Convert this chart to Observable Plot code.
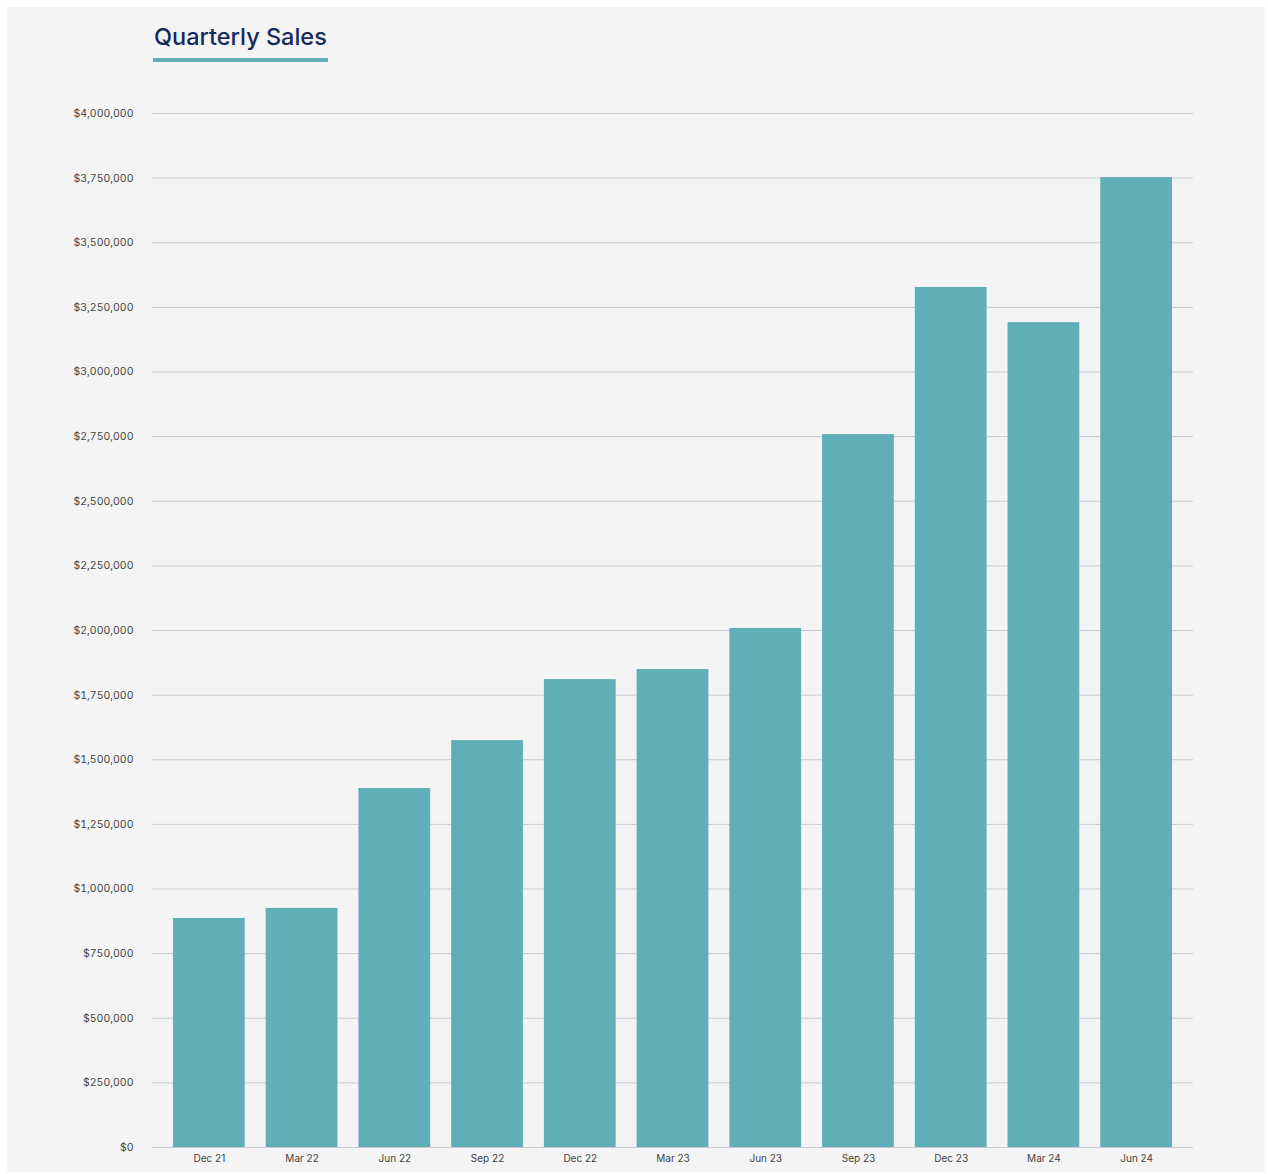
<!DOCTYPE html>
<html>
<head>
<meta charset="utf-8">
<script src="https://cdn.jsdelivr.net/npm/d3@7"></script>
<script src="https://cdn.jsdelivr.net/npm/@observablehq/plot@0.6"></script>
<style>
  html, body { margin: 0; padding: 0; background: #ffffff; }
  #panel { position: absolute; left: 7px; top: 7px; width: 1258px; height: 1165px; background: #f4f4f4; }
  #title { position: absolute; left: 147px; top: 15px; font-family: Inter, "Noto Sans", sans-serif; font-size: 23.5px; font-weight: 500; color: #14295c; letter-spacing: 0px; }
  #underline { position: absolute; left: 146px; top: 51px; width: 175px; height: 4px; background: #5fadb7; }
  #chart { position: absolute; left: 0px; top: 83px; }
</style>
</head>
<body>
<div id="panel">
  <div id="title">Quarterly Sales</div>
  <div id="underline"></div>
  <div id="chart"></div>
</div>
<script>
const quarters = ["Dec 21","Mar 22","Jun 22","Sep 22","Dec 22","Mar 23","Jun 23","Sep 23","Dec 23","Mar 24","Jun 24"];
const sales = [886000, 925000, 1389000, 1574000, 1810000, 1849000, 2008000, 2758000, 3327000, 3191000, 3752000];
const yTicks = [0,250000,500000,750000,1000000,1250000,1500000,1750000,2000000,2250000,2500000,2750000,3000000,3250000,3500000,3750000,4000000];

const data = quarters.map((q, i) => ({quarter: q, sales: sales[i]}));
const fmt = d3.format("$,.0f");

const chart = Plot.plot({
  width: 1258,
  height: 1090,
  marginLeft: 145,
  marginRight: 72,
  marginTop: 23,
  marginBottom: 33,
  style: { background: "transparent", fontFamily: "Inter, 'Noto Sans', sans-serif", fontSize: "10.5px", color: "#444" },
  x: { domain: quarters, padding: 0.226, round: false, label: null, tickSize: 0, tickPadding: 7 },
  y: { domain: [0, 4000000], ticks: yTicks, tickFormat: fmt, label: null, tickSize: 0, tickPadding: 19 },
  marks: [
    Plot.ruleY(yTicks, { stroke: "#c9c9d6", strokeWidth: 1 }),
    Plot.barY(data, { x: "quarter", y: "sales", fill: "#60aeb8" }),
    Plot.axisY({ ticks: yTicks, tickFormat: fmt, tickSize: 0, tickPadding: 19, label: null, fill: "#444", fontSize: 10.5 }),
    Plot.axisX({ tickSize: 0, tickPadding: 7, label: null, fill: "#444", fontSize: 10 })
  ]
});
document.getElementById("chart").appendChild(chart);
</script>
</body>
</html>
